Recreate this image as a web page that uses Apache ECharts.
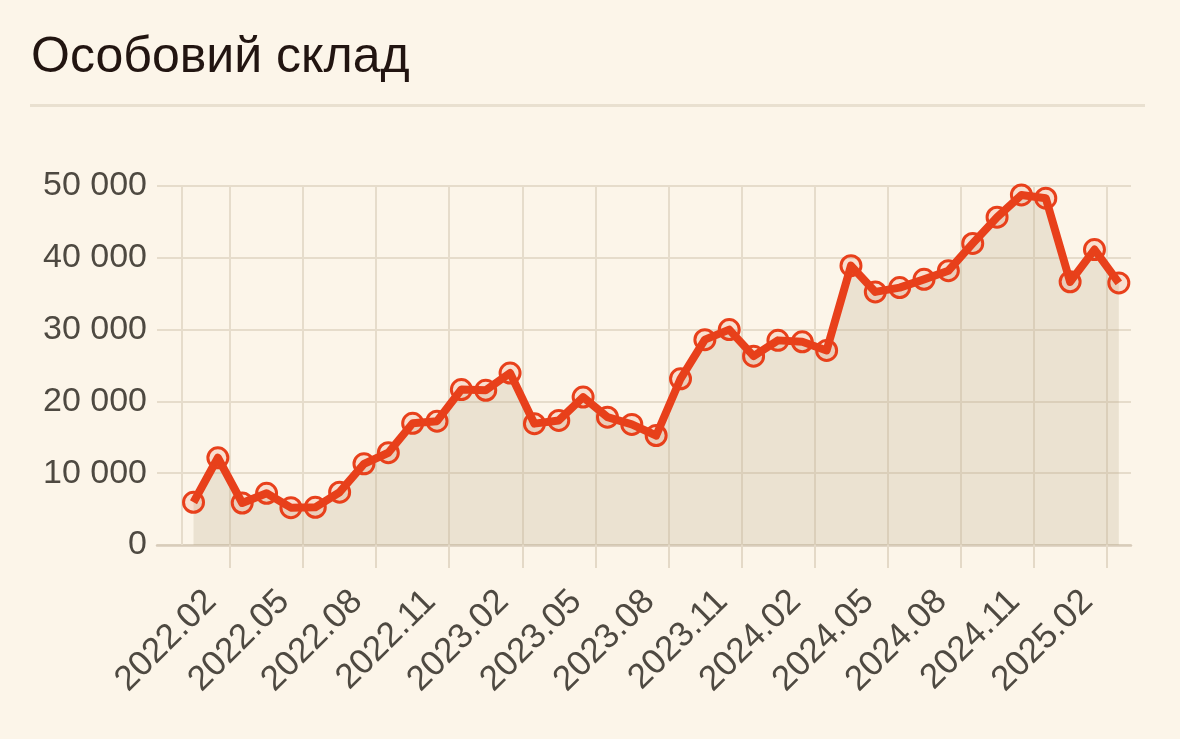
<!DOCTYPE html>
<html>
<head>
<meta charset="utf-8">
<script src="https://cdn.jsdelivr.net/npm/echarts@6/dist/echarts.min.js"></script>
<style>
  html, body { margin: 0; padding: 0; background: #fcf5e9; }
  #chart { width: 1180px; height: 739px; }
</style>
</head>
<body>
<div id="chart"></div>
<script>
// Months of the data (one point per month)
const months = ['2021.12','2022.01','2022.02','2022.03','2022.04','2022.05','2022.06','2022.07','2022.08','2022.09','2022.10','2022.11',
  '2022.12','2023.01','2023.02','2023.03','2023.04','2023.05','2023.06','2023.07','2023.08','2023.09','2023.10','2023.11',
  '2023.12','2024.01','2024.02','2024.03','2024.04','2024.05','2024.06','2024.07','2024.08','2024.09','2024.10','2024.11',
  '2024.12','2025.01','2025.02'];
// Values (personnel)
const values = [5950, 12150, 5850, 7200, 5200, 5250, 7350, 11300, 12850, 16950, 17250, 21650,
  21550, 23950, 16900, 17350, 20600, 17800, 16800, 15250, 23150, 28600, 30000, 26300,
  28500, 28300, 27100, 38900, 35250, 35850, 37000, 38200, 42000, 45650, 48750, 48300,
  36650, 41150, 36500];
// Axis tick labels (every 3 months)
const tickLabels = ['2022.02','2022.05','2022.08','2022.11','2023.02','2023.05','2023.08','2023.11','2024.02','2024.05','2024.08','2024.11','2025.02'];

// x position in "month units": point i sits at i + 1.5, tick k at 3*(k+1)
const X_OFFSET = 1.5;
const seriesData = values.map((v, i) => [i + X_OFFSET, v]);
const tickValues = tickLabels.map((_, k) => 3 * (k + 1));
const gridXs = [1].concat(tickValues);

const fmtThousands = v => String(v).replace(/\B(?=(\d{3})+(?!\d))/g, ' ');

const chart = echarts.init(document.getElementById('chart'), null, { renderer: 'canvas' });
const FONT = '"Liberation Sans", Arial, Helvetica, sans-serif';

chart.setOption({
  backgroundColor: '#fcf5e9',
  animation: false,
  title: {
    text: 'Особовий склад',
    left: 26,
    top: 28,
    textStyle: { fontFamily: FONT, fontSize: 50, fontWeight: 'normal', color: '#221511' }
  },
  graphic: [{
    type: 'rect',
    shape: { x: 30, y: 104, width: 1115, height: 3 },
    style: { fill: '#e9e0d0' },
    silent: true
  }],
  grid: { left: 157, right: 49, top: 186, bottom: 194, containLabel: false },
  xAxis: {
    type: 'value',
    min: 0,
    max: 40,
    interval: 3,
    axisLine: { show: true, lineStyle: { color: '#d8ccba', width: 2.5 } },
    axisTick: {
      show: true,
      customValues: tickValues,
      length: 23,
      lineStyle: { color: '#e4d9c7', width: 2 }
    },
    axisLabel: {
      show: true,
      customValues: tickValues,
      rotate: 45,
      margin: 32,
      padding: [0, 27, 0, 0],
      fontFamily: FONT,
      fontSize: 35,
      color: '#4e4941',
      formatter: v => tickLabels[Math.round(v / 3) - 1] || ''
    },
    splitLine: { show: false }
  },
  yAxis: {
    type: 'value',
    min: 0,
    max: 50000,
    interval: 10000,
    axisLine: { show: false },
    axisTick: { show: false },
    axisLabel: {
      margin: 10,
      fontFamily: FONT,
      fontSize: 34,
      color: '#4e4941',
      formatter: v => fmtThousands(v)
    },
    splitLine: { show: true, lineStyle: { color: '#e6dccb', width: 2 } }
  },
  series: [{
    type: 'line',
    data: seriesData,
    symbol: 'circle',
    symbolSize: 20,
    showAllSymbol: true,
    lineStyle: { color: '#e8401b', width: 8, join: 'round' },
    itemStyle: { color: 'rgba(232,64,27,0.12)', borderColor: '#e8401b', borderWidth: 3 },
    areaStyle: { color: 'rgba(185,168,135,0.34)' },
    z: 3,
    markLine: {
      silent: true,
      symbol: 'none',
      label: { show: false },
      lineStyle: { color: '#e6dccb', width: 2, type: 'solid' },
      data: gridXs.map(x => ({ xAxis: x })),
      z: 1
    }
  }]
});
</script>
</body>
</html>
